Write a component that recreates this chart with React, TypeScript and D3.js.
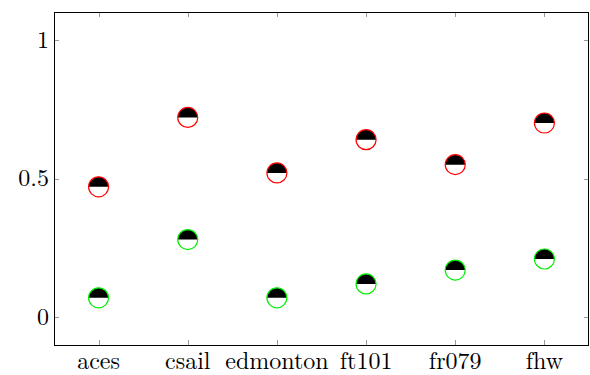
import { useEffect, useRef } from "react";
import * as d3 from "d3";

const categories = ["aces", "csail", "edmonton", "ft101", "fr079", "fhw"];
const upperValues = [0.47, 0.72, 0.52, 0.64, 0.55, 0.70];
const lowerValues = [0.07, 0.28, 0.07, 0.12, 0.17, 0.21];
const yTicks = [0, 0.5, 1];
const yTickLabels = ["0", "0.5", "1"];

function App() {
    const svgRef = useRef<SVGSVGElement | null>(null);

    useEffect(() => {
        if (!svgRef.current) return;
        const width = 590;
        const height = 375;
        const margin = { top: 12, right: 1, bottom: 30, left: 54 };
        const svg = d3.select<SVGSVGElement, unknown>(svgRef.current);
        svg.selectAll("*").remove();

        const x = d3
            .scaleLinear()
            .domain([-0.5, categories.length - 0.5])
            .range([margin.left, width - margin.right]);
        const y = d3
            .scaleLinear()
            .domain([-0.1, 1.1])
            .range([height - margin.bottom, margin.top]);

        const font = '"Latin Modern Roman", "Liberation Serif"';
        const tickLen = 5;
        const tickColor = "#999";

        // tick marks on all four sides, pointing inward
        const ticks = svg.append("g").attr("stroke", tickColor).attr("stroke-width", 1);
        categories.forEach((_, i) => {
            const px = Math.round(x(i)) + 0.5;
            ticks.append("line").attr("x1", px).attr("x2", px)
                .attr("y1", y(-0.1)).attr("y2", y(-0.1) - tickLen);
            ticks.append("line").attr("x1", px).attr("x2", px)
                .attr("y1", y(1.1)).attr("y2", y(1.1) + tickLen);
        });
        yTicks.forEach((t) => {
            const py = Math.round(y(t)) + 0.5;
            ticks.append("line").attr("x1", x(-0.5)).attr("x2", x(-0.5) + tickLen)
                .attr("y1", py).attr("y2", py);
            ticks.append("line").attr("x1", x(5.5)).attr("x2", x(5.5) - tickLen)
                .attr("y1", py).attr("y2", py);
        });

        // frame
        svg.append("rect")
            .attr("x", x(-0.5) + 0.5)
            .attr("y", y(1.1) + 0.5)
            .attr("width", x(5.5) - x(-0.5) - 1)
            .attr("height", y(-0.1) - y(1.1))
            .attr("fill", "none")
            .attr("stroke", "#000")
            .attr("stroke-width", 1);

        // labels
        svg.append("g")
            .selectAll("text")
            .data(yTicks)
            .join("text")
            .attr("x", margin.left - 5)
            .attr("y", (d) => y(d))
            .attr("dy", "0.33em")
            .attr("text-anchor", "end")
            .style("font-family", font)
            .style("font-size", "24px")
            .text((_, i) => yTickLabels[i]);

        svg.append("g")
            .selectAll("text")
            .data(categories)
            .join("text")
            .attr("x", (_, i) => x(i))
            .attr("y", height - 6)
            .attr("text-anchor", "middle")
            .style("font-family", font)
            .style("font-size", "24px")
            .text((d) => d);

        // half-filled circle markers
        const r = 10;
        const topHalf = d3.arc()({
            innerRadius: 0,
            outerRadius: r,
            startAngle: -Math.PI / 2,
            endAngle: Math.PI / 2,
        } as any) as string;

        const drawSeries = (values: number[], color: string) => {
            const g = svg.append("g")
                .selectAll("g")
                .data(values)
                .join("g")
                .attr("transform", (d, i) => `translate(${x(i)},${y(d)})`);
            g.append("circle").attr("r", r).attr("fill", "#fff");
            g.append("path").attr("d", topHalf).attr("fill", "#000");
            g.append("circle").attr("r", r).attr("fill", "none")
                .attr("stroke", color).attr("stroke-width", 1.2);
        };
        drawSeries(upperValues, "#ff0000");
        drawSeries(lowerValues, "#00ee00");
    }, []);

    return <svg ref={svgRef} width={590} height={375} style={{ position: "absolute", left: 0, top: 0 }}></svg>;
}

export default App;
